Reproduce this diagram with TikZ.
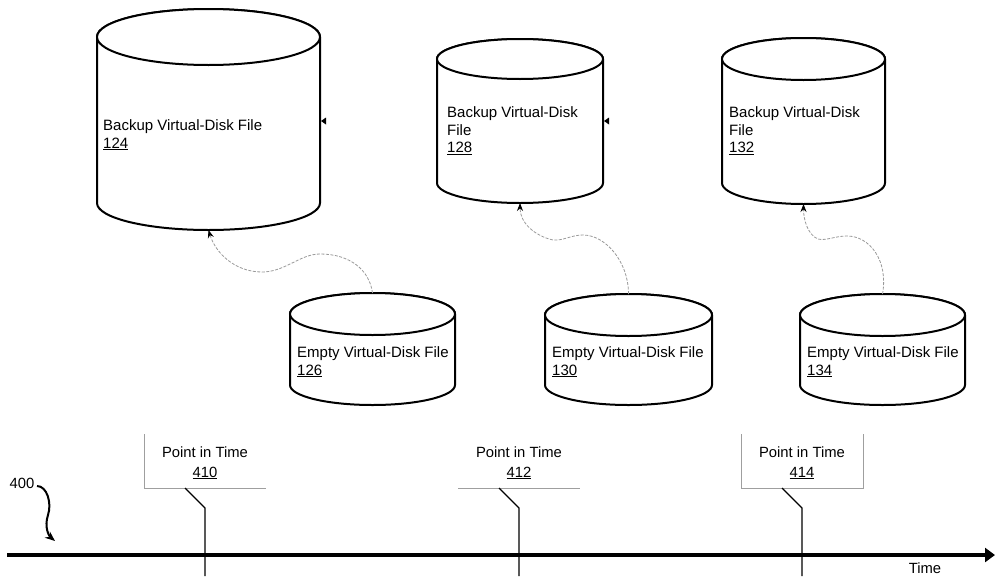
\documentclass[tikz,border=0pt]{standalone}
\usepackage{fontspec}
\setmainfont{Liberation Sans}
\usetikzlibrary{arrows.meta,calc}
\newcommand\dbcyl[7]{% name L R T RT B RB
  \pgfmathsetmacro\cylcx{(#2+#3)/2}%
  \pgfmathsetmacro\cylrx{(#3-#2)/2}%
  \filldraw[cylline] (#2,#4) -- (#2,#6) arc[start angle=180,end angle=360,x radius=\cylrx pt,y radius=#7pt] -- (#3,#4) arc[start angle=0,end angle=180,x radius=\cylrx pt,y radius=#5pt] -- cycle;
  \draw[cylline] (\cylcx,#4) ellipse[x radius=\cylrx pt,y radius=#5pt];
  \coordinate (#1-top) at (\cylcx,#4-#5);
  \coordinate (#1-bot) at (\cylcx,#6+#7);
}
\begin{document}
\begin{tikzpicture}[x=1pt,y=-1pt,
  cylline/.style={draw=black,line width=2pt,fill=white},
  lbl/.style={inner sep=0pt,font=\fontsize{15}{17.5}\selectfont,align=left,anchor=north west},
  ptlbl/.style={inner sep=0pt,font=\fontsize{14.8}{19.5}\selectfont,align=center,anchor=north},
  plain/.style={inner sep=0pt,font=\fontsize{14.8}{17.5}\selectfont},
  conn/.style={draw=gray!80,line width=0.8pt,dash pattern=on 3pt off 1.5pt,-{Stealth[length=8pt,width=6pt,color=black]}},
  boxline/.style={draw=gray!75,line width=1pt},
  leader/.style={draw=black,line width=1.2pt},
  axis/.style={draw=black,line width=4pt,-{Triangle[length=10pt,width=14pt]}}
]
\useasboundingbox (0,0) rectangle (996,576);

% cylinders
\dbcyl{b1}{97}{320}{37}{28}{203}{27}
\dbcyl{b2}{437}{603}{59}{20}{183}{20}
\dbcyl{b3}{722}{885}{59}{21}{183}{21}
\dbcyl{e1}{290}{455}{314}{21}{385}{20}
\dbcyl{e2}{545}{712}{315}{21}{385}{20}
\dbcyl{e3}{800}{965}{315}{21}{385}{20}

% small marks
\fill (321,121) -- (326,117.5) -- (326,124.5) -- cycle;
\fill (604,121) -- (609,117.5) -- (609,124.5) -- cycle;

% texts
\node[lbl] (t124) at (103,119.5) {Backup Virtual-Disk File\\\underline{124}};
\node[lbl] (t128) at (447,106.7) {Backup Virtual-Disk\\File\\\underline{128}};
\node[lbl] (t132) at (729,106.7) {Backup Virtual-Disk\\File\\\underline{132}};
\node[lbl] (t126) at (297,346.5) {Empty Virtual-Disk File\\\underline{126}};
\node[lbl] (t130) at (552,346.5) {Empty Virtual-Disk File\\\underline{130}};
\node[lbl] (t134) at (807,346.5) {Empty Virtual-Disk File\\\underline{134}};

% connectors
\coordinate (w1a) at (320,254);
\coordinate (w1b) at (262,272);
\draw[conn] (e1-top) .. controls +(-3,-23) and +(30,0) .. (w1a) .. controls +(-20,0) and +(23,0) .. (w1b) .. controls +(-27,0) and +(7,23) .. (b1-bot);
\coordinate (w2a) at (583,235);
\coordinate (w2b) at (553,240);
\draw[conn] (e2-top) .. controls +(0,-33) and +(22,0) .. (w2a) .. controls +(-12,0) and +(10,1) .. (w2b) .. controls +(-18,-4) and +(0,20) .. (b2-bot);
\coordinate (w3a) at (847,236);
\coordinate (w3b) at (818,239);
\draw[conn] (e3-top) .. controls +(6,-33) and +(23,0) .. (w3a) .. controls +(-12,0) and +(8,2) .. (w3b) .. controls +(-10,-4) and +(0,16) .. (b3-bot);

% point in time boxes
\draw[boxline] (144,434) -- (144,488) -- (266,488);
\draw[boxline] (458,488) -- (580,488);
\draw[boxline] (741,434) -- (741,488) -- (863,488) -- (863,434);
\node[ptlbl] (p410) at (205,446.7) {Point in Time\\\underline{410}};
\node[ptlbl] (p412) at (519,446.7) {Point in Time\\\underline{412}};
\node[ptlbl] (p414) at (802,446.7) {Point in Time\\\underline{414}};

% leaders
\coordinate (l1a) at (185,488); \coordinate (l1b) at (205,508); \coordinate (l1c) at (205,576);
\coordinate (l2a) at (499,488); \coordinate (l2b) at (519,508); \coordinate (l2c) at (519,576);
\coordinate (l3a) at (782,488); \coordinate (l3b) at (802,508); \coordinate (l3c) at (802,576);
\draw[leader] (l1a) -- (l1b) -- (l1c);
\draw[leader] (l2a) -- (l2b) -- (l2c);
\draw[leader] (l3a) -- (l3b) -- (l3c);

% time axis
\coordinate (ax0) at (7,555);
\coordinate (ax1) at (995,555);
\draw[axis] (ax0) -- (ax1);
\node[plain] (time) at (925,568.5) {Time};

% reference label
\node[plain] (n400) at (22,483) {400};
\coordinate (q0) at (37,486);
\coordinate (q1) at (48,515);
\coordinate (q2) at (55,541);
\draw[line width=2pt,-{Stealth[length=10pt,width=8pt]}] (q0) .. controls +(10,0) and +(4,-12) .. (q1) .. controls +(-4,12) and +(-6,-5) .. (q2);
\end{tikzpicture}
\end{document}
